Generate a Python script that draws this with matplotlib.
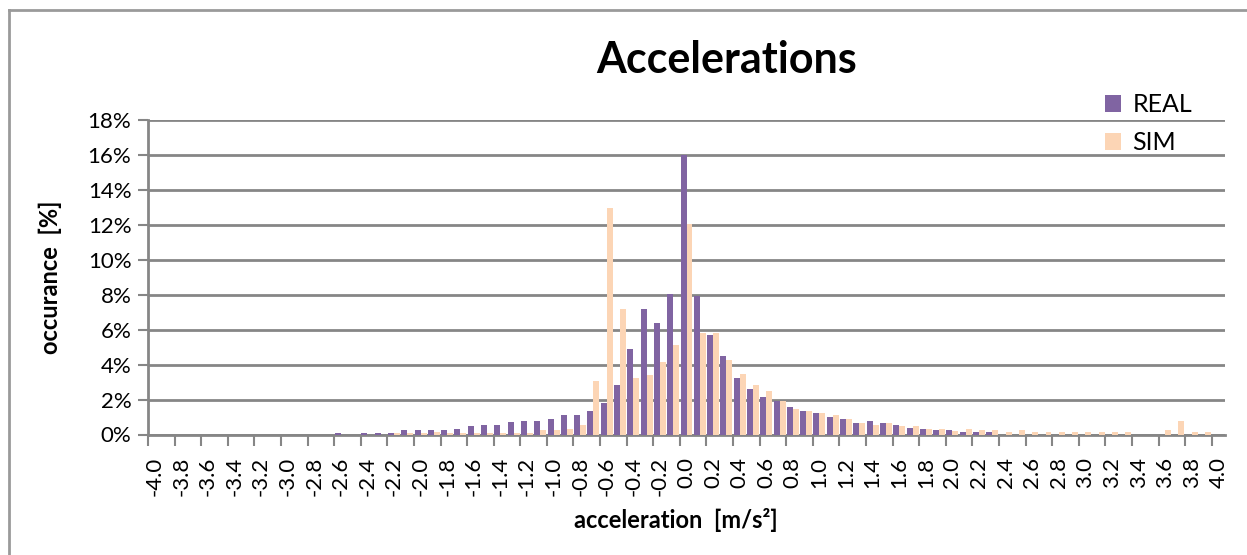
import numpy as np
import matplotlib
matplotlib.use("Agg")
import matplotlib.pyplot as plt
from matplotlib.patches import Patch
from matplotlib.lines import Line2D

# acceleration bins -4.0 .. 4.0 in 0.1 steps
accel = np.round(np.arange(-40, 41) / 10.0, 1)

# occurance in percent
real = [0, 0, 0, 0, 0, 0, 0, 0, 0, 0,            # -4.0 .. -3.1
        0, 0, 0, 0, 0.11, 0, 0.11, 0.11, 0.11, 0.23,  # -3.0 .. -2.1
        0.23, 0.23, 0.23, 0.34, 0.48, 0.57, 0.57, 0.69, 0.80, 0.80,  # -2.0 .. -1.1
        0.91, 1.14, 1.14, 1.37, 1.80, 2.81, 4.90, 7.17, 6.38, 8.03,  # -1.0 .. -0.1
        16.0,                                     # 0.0
        7.95, 5.71, 4.48, 3.26, 2.58, 2.13, 1.94, 1.57, 1.37, 1.25,  # 0.1 .. 1.0
        1.02, 0.91, 0.68, 0.80, 0.68, 0.57, 0.36, 0.34, 0.23, 0.23,  # 1.1 .. 2.0
        0.13, 0.13, 0.13, 0, 0, 0, 0, 0, 0, 0,   # 2.1 .. 3.0
        0, 0, 0, 0, 0, 0, 0, 0, 0, 0]             # 3.1 .. 4.0

sim = [0, 0, 0, 0, 0, 0, 0, 0, 0, 0,
       0, 0, 0, 0, 0, 0, 0, 0, 0.11, 0.11,
       0.11, 0.15, 0.11, 0.11, 0.11, 0.11, 0.11, 0.11, 0.11, 0.23,
       0.23, 0.34, 0.57, 3.04, 12.94, 7.17, 3.24, 3.38, 4.14, 5.14,
       12.05,
       5.79, 5.80, 4.25, 3.47, 2.81, 2.49, 1.94, 1.48, 1.37, 1.25,
       1.14, 0.91, 0.68, 0.57, 0.68, 0.47, 0.47, 0.34, 0.34, 0.21,
       0.34, 0.23, 0.23, 0.13, 0.23, 0.13, 0.13, 0.13, 0.13, 0.13,
       0.13, 0.13, 0.13, 0, 0, 0.23, 0.75, 0.13, 0.13, 0]

yticks = np.arange(0, 19, 2)

c_real = "#8064A2"
c_sim = "#FCD5B5"
grid_c = "#868686"
fnt = ["Lato", "DejaVu Sans"]

fig = plt.figure(figsize=(12.47, 5.55), dpi=100)
ax = fig.add_axes([148 / 1247, 1 - 434.5 / 555, (1225 - 148) / 1247, (434.5 - 120) / 555])

x = np.arange(len(accel))
w = 0.45
ax.bar(x - w / 2, real, width=w, color=c_real, zorder=3, label="REAL")
ax.bar(x + w / 2, sim, width=w, color=c_sim, zorder=3, label="SIM")

ax.set_xlim(-0.5, len(accel) - 0.5)
ax.set_ylim(0, 18)

# y axis
ax.set_yticks(yticks)
ax.set_yticklabels(["%d%%" % v for v in yticks], fontsize=16, family=fnt)
ax.yaxis.grid(True, color=grid_c, linewidth=2, zorder=0)
ax.tick_params(axis="y", length=7, width=1.5, color=grid_c, direction="out", pad=5)

# x axis: tick marks between categories, labels on every second category
ax.set_xticks(np.arange(-0.5, len(accel), 2))
ax.set_xticklabels([])
ax.set_xticks(x[::2], minor=True)
ax.set_xticklabels(["%.1f" % v for v in accel[::2]], minor=True, rotation=90,
                   fontsize=16, family=fnt)
ax.tick_params(axis="x", which="major", length=8, width=1.5, color=grid_c, direction="out")
ax.tick_params(axis="x", which="minor", length=0, pad=16)

for side in ["top", "right"]:
    ax.spines[side].set_visible(False)
for side in ["left", "bottom"]:
    ax.spines[side].set_color(grid_c)
    ax.spines[side].set_linewidth(2)

ax.set_ylabel("occurance  [%]", fontsize=17, fontweight="bold", family=fnt)
ax.yaxis.set_label_coords((62 - 148) / (1225 - 148), 0.5)
fig.text(676 / 1247, 1 - 520 / 555, "acceleration  [m/s²]", fontsize=17, fontweight="bold",
         family=fnt, ha="center", va="center")
fig.text(727 / 1247, 1 - 60 / 555, "Accelerations", fontsize=31, fontweight="bold",
         family=fnt, ha="center", va="center")

handles = [Patch(facecolor=c_real, edgecolor="none"), Patch(facecolor=c_sim, edgecolor="none")]
fig.legend(handles, ["REAL", "SIM"], loc="upper left", bbox_to_anchor=(1105 / 1247, 1 - 93 / 555),
           frameon=False, prop={"family": fnt, "size": 18}, handlelength=0.65, handleheight=0.65,
           handletextpad=0.45, labelspacing=0.6, borderpad=0, borderaxespad=0)

# chart area frame (left and top edges visible)
fig.add_artist(Line2D([9 / 1247, 9 / 1247], [0, 1 - 10 / 555], transform=fig.transFigure,
                      color="#9a9a9a", linewidth=2))
fig.add_artist(Line2D([9 / 1247, 1], [1 - 10 / 555, 1 - 10 / 555], transform=fig.transFigure,
                      color="#9a9a9a", linewidth=2))

fig.savefig("out.png", dpi=100)
